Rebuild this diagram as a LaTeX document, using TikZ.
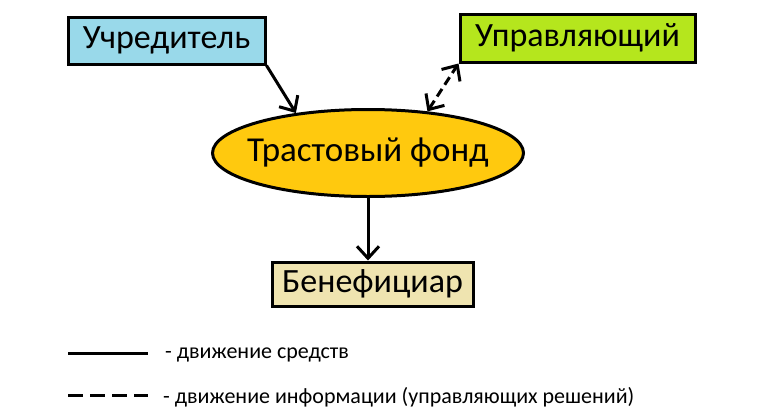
\documentclass[tikz,border=0pt]{standalone}
\usepackage{fontspec}
\setmainfont{Carlito}
\usetikzlibrary{arrows.meta,shapes.geometric}
\definecolor{ublue}{HTML}{99D9EA}
\definecolor{mgreen}{HTML}{B5E61D}
\definecolor{gold}{HTML}{FFC90E}
\definecolor{beige}{HTML}{EFE4B0}
\begin{document}
\begin{tikzpicture}[x=1pt,y=-1pt,
  box/.style={draw=black, line width=3pt, inner sep=0pt, font=\fontsize{34}{40}\selectfont},
  conn/.style={line width=3pt, -{Straight Barb[length=12pt,width=22pt,line width=3pt]}},
  dconn/.style={line width=3pt, dash pattern=on 9pt off 5pt, {Straight Barb[length=12pt,width=22pt,line width=3pt]}-{Straight Barb[length=12pt,width=22pt,line width=3pt]}},
  legtext/.style={anchor=west, inner sep=0pt, font=\fontsize{22}{26}\selectfont}
]
\useasboundingbox[fill=white] (0,0) rectangle (768,418);
\node[box, fill=ublue, minimum width=197pt, minimum height=47pt] (u) at (166.5,40.5) {Учредитель};
\node[box, fill=mgreen, minimum width=235pt, minimum height=48pt] (m) at (577.5,38) {Управляющий};
\node[box, ellipse, fill=gold, minimum width=311pt, minimum height=87pt] (f) at (368,153) {};
\node[inner sep=0pt, font=\fontsize{35}{40}\selectfont] (ft) at (f.center) {Трастовый фонд};
\node[box, fill=beige, minimum width=201pt, minimum height=44pt] (b) at (372.5,284) {Бенефициар};
\draw[conn] (u.south east) -- (f.151);
\draw[dconn] (f.35) -- (m.south west);
\draw[conn] (f.south) -- (f.south |- b.north);
\coordinate (l1a) at (68,353);
\coordinate (l1b) at (148,353);
\coordinate (l2a) at (68,395);
\coordinate (l2b) at (148,395);
\draw[line width=3pt] (l1a) -- (l1b);
\draw[line width=3pt, dash pattern=on 15pt off 7pt] (l2a) -- (l2b);
\node[legtext] (t1) at (165,355) {- движение средств};
\node[legtext] (t2) at (163,397) {- движение информации (управляющих решений)};
\end{tikzpicture}
\end{document}
